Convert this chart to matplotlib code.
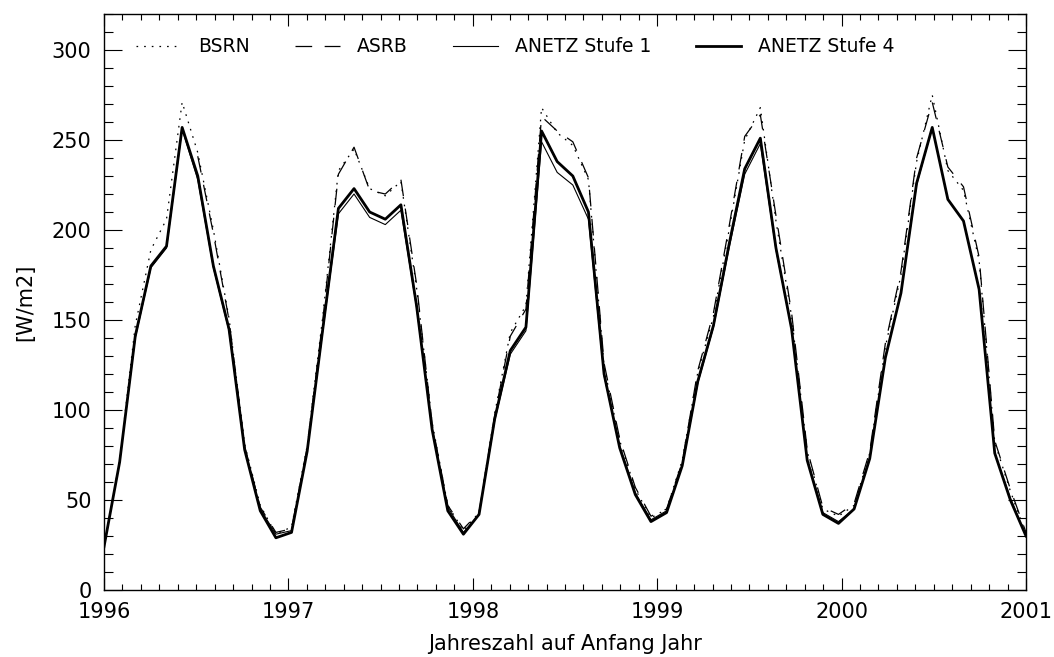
import numpy as np
import matplotlib
matplotlib.use("Agg")
import matplotlib.pyplot as plt
from matplotlib.ticker import MultipleLocator, FormatStrFormatter

# monthly means 1996-2000, 60 values
years = np.linspace(1996, 2001, 60)

bsrn = [24, 72, 147, 189, 206, 271, 243, 200, 151, 81, 47, 31,
        35, 80, 152, 233, 245, 223, 219, 227, 168, 93, 47, 33,
        43, 98, 143, 158, 268, 254, 247, 228, 124, 83, 56, 40,
        45, 72, 121, 152, 200, 250, 268, 205, 152, 77, 45, 41,
        47, 76, 135, 175, 238, 275, 233, 222, 183, 82, 55, 31]

asrb = [np.nan, np.nan, np.nan, np.nan, np.nan, np.nan, 241, 198, 150, 80, 46, 32,
        34, 79, 150, 231, 246, 222, 220, 228, 170, 92, 47, 34,
        43, 97, 141, 156, 263, 255, 249, 229, 126, 84, 57, 41,
        45, 71, 122, 154, 202, 252, 264, 208, 154, 78, 46, 42,
        48, 77, 137, 177, 240, 271, 235, 224, 185, 83, 56, 32]

stufe1 = [24, 71, 140, 179, 190, 256, 228, 179, 144, 79, 45, 31,
          33, 77, 144, 209, 220, 207, 203, 211, 157, 90, 46, 32,
          42, 94, 131, 144, 249, 232, 225, 206, 119, 80, 54, 39,
          44, 69, 115, 146, 190, 231, 248, 189, 145, 73, 43, 38,
          45, 73, 129, 165, 225, 257, 217, 205, 167, 76, 51, 30]

stufe4 = [24, 71, 141, 180, 191, 257, 230, 180, 145, 78, 44, 29,
          32, 77, 145, 212, 223, 210, 206, 214, 158, 89, 44, 31,
          42, 95, 133, 146, 255, 238, 230, 210, 120, 79, 53, 38,
          43, 69, 116, 147, 192, 234, 251, 190, 145, 72, 42, 37,
          45, 73, 129, 165, 226, 257, 217, 205, 167, 76, 50, 30]

plt.rcParams['font.family'] = ['DejaVu Sans']
plt.rcParams['lines.scale_dashes'] = False

fig = plt.figure(figsize=(10.54, 6.57), dpi=100)
ax = fig.add_axes([104/1054, 1 - 590/657, 922/1054, 576/657])

ax.plot(years, bsrn, color='k', lw=0.9, dashes=(1.2, 4.3), label='BSRN')
ax.plot(years, asrb, color='k', lw=0.9, dashes=(12, 9), label='ASRB')
ax.plot(years, stufe1, color='k', lw=0.8, label='ANETZ Stufe 1')
ax.plot(years, stufe4, color='k', lw=2.0, label='ANETZ Stufe 4')

ax.set_xlim(1996, 2001)
ax.set_ylim(0, 320)

ax.xaxis.set_major_locator(MultipleLocator(1))
ax.xaxis.set_minor_locator(MultipleLocator(0.1))
ax.xaxis.set_major_formatter(FormatStrFormatter('%d'))
ax.yaxis.set_major_locator(MultipleLocator(50))
ax.yaxis.set_minor_locator(MultipleLocator(10))

ax.tick_params(which='both', direction='in', top=True, right=True, width=0.8,
               labelsize=15, colors='k')
ax.xaxis.set_tick_params(which='major', length=8.3, pad=9)
ax.xaxis.set_tick_params(which='minor', length=4)
ax.yaxis.set_tick_params(which='major', length=13.3, pad=9)
ax.yaxis.set_tick_params(which='minor', length=6.6)
for s in ax.spines.values():
    s.set_linewidth(1.0)

ax.set_xlabel('Jahreszahl auf Anfang Jahr', fontsize=15, labelpad=8)
ax.set_ylabel('[W/m2]', fontsize=15, labelpad=12)

ax.legend(loc='center left', bbox_to_anchor=(0.035, 0.943), ncol=4,
          frameon=False, fontsize=13.5, handlelength=2.4, handletextpad=0.9,
          columnspacing=2.4, borderpad=0, borderaxespad=0)

fig.savefig('out.png', dpi=100)
